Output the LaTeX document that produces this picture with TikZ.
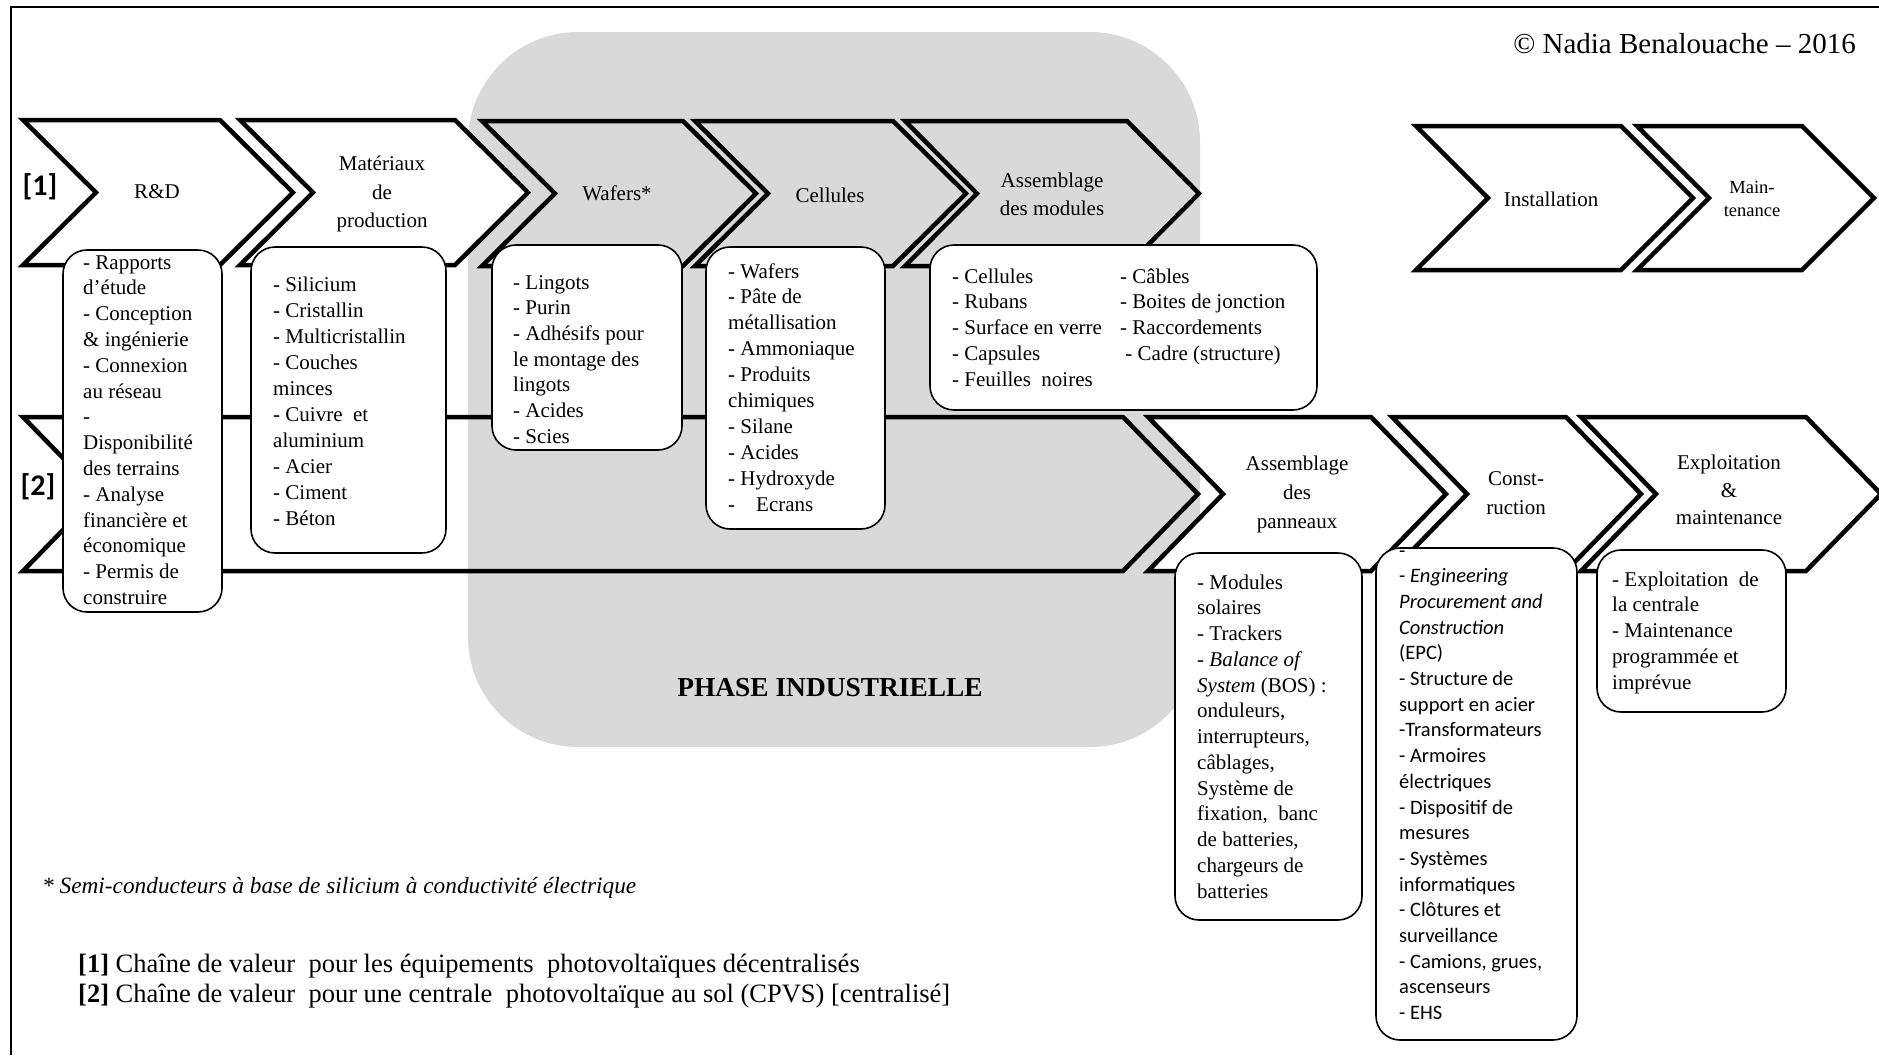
\documentclass[tikz,border=0pt]{standalone}
\usepackage{fontspec}
\setmainfont{Liberation Serif}
\newfontfamily\calfont{Carlito}
\definecolor{phasegray}{RGB}{217,217,217}
\tikzset{
  chev/.style={draw=black, line width=4.5pt, line join=miter},
  chevwhite/.style={chev, fill=white},
  box/.style={draw=black, line width=1.6pt, fill=white, rounded corners=24pt, inner sep=0pt},
  lbl/.style={align=center, inner sep=0pt, font=\fontsize{21}{28.5}\selectfont},
  txt/.style={anchor=base west, inner sep=0pt},
}
\newcommand\chevr[6][chev]{\draw[#1] (#2,#4) -- (#3,#4) -- ({#3+#6},{(#4+#5)/2}) -- (#3,#5) -- (#2,#5) -- ({#2+#6},{(#4+#5)/2}) -- cycle;}
\newcommand\blist[2][25.8]{\parbox[t]{420pt}{\raggedright\fontsize{21}{#1}\selectfont #2}}
\begin{document}
\begin{tikzpicture}[x=1pt,y=-1pt]
\useasboundingbox (0,0) rectangle (1879,1055);
% frame
\draw[line width=2.5pt] (11,1055) -- (11,7) -- (1879,7);
% industrial phase background
\fill[phasegray, rounded corners=110pt] (468,32) rectangle (1200,747);
\node[font=\fontsize{27.4}{30}\selectfont\bfseries] (phase) at (830,688) {PHASE INDUSTRIELLE};
% copyright
\node[anchor=base east, inner sep=0pt, font=\fontsize{29}{32}\selectfont] (copy) at (1856,53) {© Nadia Benalouache – 2016};
% row 2 chevrons
\chevr{23}{1123}{417}{571}{75}
\chevr[chevwhite]{1148}{1371}{417}{571}{75}
\chevr[chevwhite]{1392}{1566}{417}{571}{75}
\chevr[chevwhite]{1581}{1806}{417}{571}{75}
% row 1 chevrons
\chevr[chevwhite]{23}{220}{120}{265}{73}
\chevr[chevwhite]{240}{455}{120}{265}{73}
\chevr{482}{683}{121}{266}{73}
\chevr{695}{893}{121}{266}{73}
\chevr{905}{1127}{121}{266}{72}
\chevr[chevwhite]{1416}{1621}{126}{270}{72}
\chevr[chevwhite]{1637}{1802}{126}{270}{72}
% row markers
\node[font=\calfont\bfseries\fontsize{30}{32}\selectfont] (r1) at (40,187) {[1]};
\node[font=\calfont\bfseries\fontsize{30}{32}\selectfont] (r2) at (38,487) {[2]};
% chevron labels
\node[lbl] (lRD) at (157,192) {R\&D};
\node[lbl] (lMat) at (382,194) {Matériaux\\de\\production};
\node[lbl] (lWaf) at (617,193) {Wafers*};
\node[lbl] (lCel) at (830,195) {Cellules};
\node[lbl, font=\fontsize{21}{28}\selectfont] (lMod) at (1052,194) {Assemblage\\des modules};
\node[lbl] (lIns) at (1551,199) {Installation};
\node[lbl, font=\fontsize{18.5}{23.5}\selectfont] (lMai) at (1752,199) {Main-\\tenance};
\node[lbl, font=\fontsize{21}{29}\selectfont] (lPan) at (1297,494) {Assemblage\\des\\panneaux};
\node[lbl, font=\fontsize{21}{29}\selectfont] (lCon) at (1516,493) {Const-\\ruction};
\node[lbl, font=\fontsize{21}{27.5}\selectfont] (lExp) at (1729,490) {Exploitation\\\&\\maintenance};
% boxes
\node[box, minimum width=159pt, minimum height=362pt] (bRD) at (142.5,431) {};
\node[box, minimum width=195pt, minimum height=306pt] (bMat) at (348.5,400) {};
\node[box, minimum width=190pt, minimum height=205pt] (bWaf) at (587,347.5) {};
\node[box, minimum width=179pt, minimum height=282pt] (bCel) at (795.5,388) {};
\node[box, minimum width=387pt, minimum height=165pt] (bMod) at (1123.5,327.5) {};
\node[box, minimum width=187pt, minimum height=367pt] (bPan) at (1268.5,736.5) {};
\node[box, minimum width=201pt, minimum height=492pt] (bCon) at (1476.5,794) {};
\node[box, minimum width=189pt, minimum height=162pt] (bExp) at (1691.5,631) {};
% box texts
\node[txt] (tRD) at (83,269) {\blist{- Rapports\\d'étude\\- Conception\\\& ingénierie\\- Connexion\\au réseau\\-\\Disponibilité\\des terrains\\- Analyse\\financière et\\économique\\- Permis de\\construire}};
\node[txt] (tMat) at (273,291) {\blist[26]{- Silicium\\- Cristallin\\- Multicristallin\\- Couches\\minces\\- Cuivre\ \ et\\aluminium\\- Acier\\- Ciment\\- Béton}};
\node[txt] (tWaf) at (513,289) {\blist[25.7]{- Lingots\\- Purin\\- Adhésifs pour\\le montage des\\lingots\\- Acides\\- Scies}};
\node[txt] (tCel) at (728,278) {\blist[25.9]{- Wafers\\- Pâte de\\métallisation\\- Ammoniaque\\- Produits\\chimiques\\- Silane\\- Acides\\- Hydroxyde\\-\ \ \ \ Ecrans}};
\node[txt] (tModA) at (952,283) {\blist[25.75]{- Cellules\\- Rubans\\- Surface en verre\\- Capsules\\- Feuilles\ \ noires}};
\node[txt] (tModB) at (1120,283) {\blist[25.75]{- Câbles\\- Boites de jonction\\- Raccordements\\\ - Cadre (structure)}};
\node[txt] (tPan) at (1197,589) {\blist[25.75]{- Modules\\solaires\\- Trackers\\\textit{- Balance of}\\\textit{System} (BOS) :\\onduleurs,\\interrupteurs,\\câblages,\\Système de\\fixation,\ \ banc\\de batteries,\\chargeurs de\\batteries}};
\node[txt] (tCon) at (1399,557) {\parbox[t]{420pt}{\raggedright\calfont\fontsize{20.5}{25.7}\selectfont -\\- \textit{Engineering}\\\textit{Procurement and}\\\textit{Construction}\\(EPC)\\- Structure de\\support en acier\\-Transformateurs\\- Armoires\\électriques\\- Dispositif de\\mesures\\- Systèmes\\informatiques\\- Clôtures et\\surveillance\\- Camions, grues,\\ascenseurs\\- EHS}};
\node[txt] (tExp) at (1612,586) {\blist[25.75]{- Exploitation\ \ de\\la centrale\\- Maintenance\\programmée et\\imprévue}};
% footer
\node[txt, font=\fontsize{23.3}{27}\selectfont\itshape] (fnote) at (42,893) {* Semi-conducteurs à base de silicium à conductivité électrique};
\node[txt, font=\fontsize{26.5}{29}\selectfont] (leg1) at (78,972) {\textbf{[1]} Chaîne de valeur\ \ pour les équipements\ \ photovoltaïques décentralisés};
\node[txt, font=\fontsize{26.5}{29}\selectfont] (leg2) at (78,1002) {\textbf{[2]} Chaîne de valeur\ \ pour une centrale\ \ photovoltaïque au sol (CPVS) [centralisé]};
\end{tikzpicture}
\end{document}
